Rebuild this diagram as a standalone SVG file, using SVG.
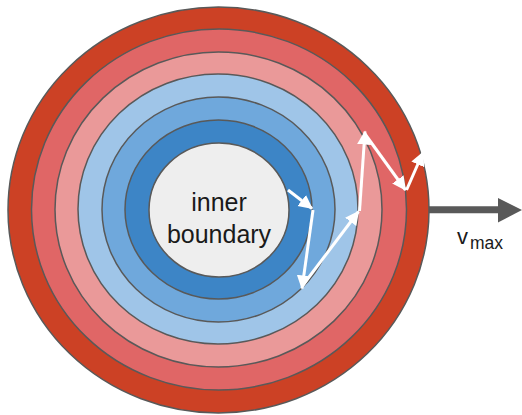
<svg xmlns="http://www.w3.org/2000/svg" width="522" height="415" viewBox="0 0 522 415">
<defs>
<style>
.ring{stroke:#595959;stroke-width:1.5}
.walk{stroke:#ffffff;stroke-width:3;fill:none;marker-end:url(#wh)}
.lbl{font-family:"Liberation Sans",Arial,sans-serif;fill:#1a1a1a}
</style>
<marker id="wh" markerUnits="userSpaceOnUse" markerWidth="16" markerHeight="16" refX="13" refY="7" orient="auto">
<path d="M0,0 L14,7 L0,14 z" fill="#ffffff"/>
</marker>
</defs>
<rect width="522" height="415" fill="#ffffff"/>
<g id="ring7"><ellipse class="ring" cx="218.5" cy="210" rx="210.5" ry="203" fill="#CC4125"/></g>
<g id="ring6"><ellipse class="ring" cx="219" cy="209.5" rx="187.5" ry="180.5" fill="#E06666"/></g>
<g id="ring5"><ellipse class="ring" cx="218.5" cy="209.5" rx="163.5" ry="157.5" fill="#EA9999"/></g>
<g id="ring4"><ellipse class="ring" cx="218" cy="209" rx="140" ry="135" fill="#9FC5E8"/></g>
<g id="ring3"><ellipse class="ring" cx="218.5" cy="209.5" rx="116.5" ry="112.5" fill="#6FA8DC"/></g>
<g id="ring2"><ellipse class="ring" cx="218.5" cy="209.5" rx="93.5" ry="89.5" fill="#3D85C6"/></g>
<g id="inner"><ellipse class="ring" cx="219" cy="210" rx="70" ry="67" fill="#EEEEEE"/>
<text class="lbl" x="219" y="211" font-size="25" text-anchor="middle">inner</text>
<text class="lbl" x="219" y="243" font-size="25" text-anchor="middle">boundary</text>
</g>
<g id="connectors">
<line class="walk" x1="288" y1="190" x2="312" y2="208.5"/>
<line class="walk" x1="313" y1="210" x2="302" y2="288.5"/>
<line class="walk" x1="303" y1="285" x2="358.5" y2="211.5"/>
<line class="walk" x1="359.5" y1="211" x2="365" y2="131.5"/>
<line class="walk" x1="365" y1="134" x2="405.5" y2="190"/>
<line class="walk" x1="406.5" y1="190" x2="423" y2="152.5"/>
<line x1="429" y1="209.7" x2="500" y2="209.7" stroke="#595959" stroke-width="7"/>
<path d="M498,198 L522,210 L498,222.5 z" fill="#595959"/>
</g>
<g id="vmax">
<text class="lbl" x="457" y="244" font-size="22">v</text>
<text class="lbl" x="470" y="249" font-size="17.5">max</text>
</g>
</svg>
